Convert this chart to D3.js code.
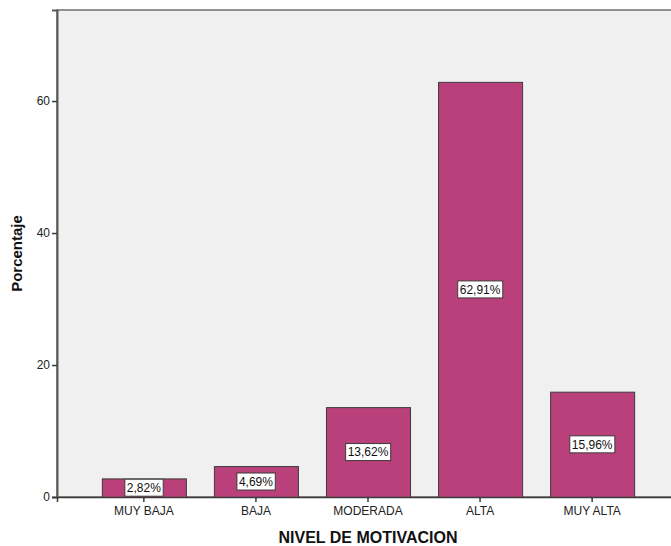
<!DOCTYPE html>
<html>
<head>
<meta charset="utf-8">
<script src="https://cdn.jsdelivr.net/npm/d3@7"></script>
<style>
  html, body { margin: 0; padding: 0; background: #ffffff; }
  svg { display: block; font-family: "Liberation Sans", Arial, sans-serif; }
</style>
</head>
<body>
<svg id="chart" width="671" height="546"></svg>
<script>
// Nivel de motivación: porcentaje por categoría
const categories = ["MUY BAJA", "BAJA", "MODERADA", "ALTA", "MUY ALTA"];
const percentages = [2.82, 4.69, 13.62, 62.91, 15.96];
const yTicks = [0, 20, 40, 60];

const svg = d3.select("#chart");
const plot = { left: 57, top: 10, right: 679, bottom: 497 };

const x = d3.scaleBand()
  .domain(categories)
  .range([plot.left, plot.right])
  .paddingInner(0.25)
  .paddingOuter(0.4);

const y = d3.scaleLinear()
  .domain([0, 73.8])
  .range([plot.bottom, plot.top]);

// plot background with frame
svg.append("rect")
  .attr("x", plot.left)
  .attr("y", plot.top)
  .attr("width", plot.right - plot.left)
  .attr("height", plot.bottom - plot.top)
  .attr("fill", "#f0f0f0")
  .attr("stroke", "#707070")
  .attr("stroke-width", 1.5);

// bars
svg.selectAll("rect.bar")
  .data(percentages)
  .join("rect")
  .attr("class", "bar")
  .attr("x", (d, i) => x(categories[i]) + 0.5)
  .attr("y", d => y(d) + 0.5)
  .attr("width", x.bandwidth())
  .attr("height", d => y(0) - y(d))
  .attr("fill", "#b9407b")
  .attr("stroke", "#3c3c3c")
  .attr("stroke-width", 1);

// y axis
const yAxis = d3.axisLeft(y)
  .tickValues(yTicks)
  .tickSize(5)
  .tickPadding(2)
  .tickFormat(d3.format("d"));
const gy = svg.append("g")
  .attr("transform", `translate(${plot.left},0)`)
  .call(yAxis);
gy.select(".domain").attr("stroke", "#5a5a5a").attr("stroke-width", 2);
gy.selectAll(".tick line").attr("stroke", "#3a3a3a").attr("stroke-width", 1.5);
gy.selectAll(".tick text")
  .attr("font-size", 12)
  .attr("fill", "#222")
  .style("font-family", "'Liberation Sans', Arial, sans-serif");

// x axis
const xAxis = d3.axisBottom(x).tickSize(5).tickPadding(4);
const gx = svg.append("g")
  .attr("transform", `translate(0,${plot.bottom})`)
  .call(xAxis);
gx.select(".domain").attr("stroke", "#3a3a3a").attr("stroke-width", 1.5);
gx.selectAll(".tick line").attr("stroke", "#3a3a3a").attr("stroke-width", 1.5);
gx.selectAll(".tick text")
  .attr("font-size", 12)
  .attr("fill", "#222")
  .style("font-family", "'Liberation Sans', Arial, sans-serif");

// value labels in boxes at bar mid-height
const fmt = v => v.toFixed(2).replace(".", ",") + "%";
const labels = svg.selectAll("g.vlabel")
  .data(percentages)
  .join("g")
  .attr("class", "vlabel")
  .attr("transform", (d, i) =>
    `translate(${x(categories[i]) + x.bandwidth() / 2},${(y(d) + y(0)) / 2})`);

labels.append("text")
  .attr("text-anchor", "middle")
  .attr("dy", "0.36em")
  .attr("font-size", 12)
  .attr("fill", "#111")
  .text(fmt);

labels.each(function() {
  const g = d3.select(this);
  const bb = g.select("text").node().getBBox();
  g.insert("rect", "text")
    .attr("x", bb.x - 2)
    .attr("y", -8.5)
    .attr("width", bb.width + 4)
    .attr("height", 17)
    .attr("fill", "#ffffff")
    .attr("stroke", "#3c3c3c")
    .attr("stroke-width", 1);
});

// axis titles
svg.append("text")
  .attr("transform", `translate(22,${(plot.top + plot.bottom) / 2}) rotate(-90)`)
  .attr("text-anchor", "middle")
  .attr("font-size", 15)
  .attr("font-weight", "bold")
  .attr("fill", "#111")
  .text("Porcentaje");

svg.append("text")
  .attr("x", (plot.left + plot.right) / 2)
  .attr("y", 543)
  .attr("text-anchor", "middle")
  .attr("font-size", 16)
  .attr("font-weight", "bold")
  .attr("fill", "#111")
  .text("NIVEL DE MOTIVACION");
</script>
</body>
</html>
